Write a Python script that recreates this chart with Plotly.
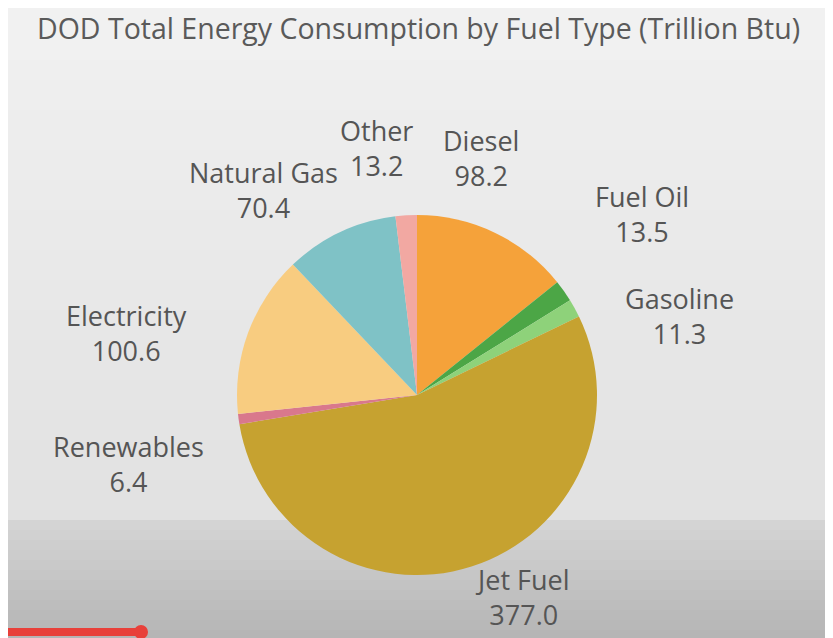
import plotly.graph_objects as go

fuel_types = ["Diesel", "Fuel Oil", "Gasoline", "Jet Fuel", "Renewables",
              "Electricity", "Natural Gas", "Other"]
consumption = [98.2, 13.5, 11.3, 377.0, 6.4, 100.6, 70.4, 13.2]
slice_colors = ["#F5A23A", "#4CA646", "#8ED27A", "#C6A230", "#D9788C",
                "#F8CC80", "#7FC2C6", "#F2A8A2"]

# label placement (pixel centres on screen) - styling only
label_px = {
    "Diesel": (481, 158),
    "Fuel Oil": (642, 214),
    "Gasoline": (679, 316),
    "Jet Fuel": (522, 597),
    "Renewables": (128, 464),
    "Electricity": (126, 333),
    "Natural Gas": (263, 190),
    "Other": (376, 148),
}

OFF = 8  # page body margin
W, H = 833 - OFF, 638 - OFF
cx, cy, r = 417 - OFF, 395 - OFF, 180


def px_x(x):
    return (x - OFF) / W


def px_y(y):
    return 1 - (y - OFF) / H


fig = go.Figure(go.Pie(
    labels=fuel_types,
    values=consumption,
    sort=False,
    direction="clockwise",
    rotation=0,
    marker=dict(colors=slice_colors, line=dict(width=0)),
    textinfo="none",
    hoverinfo="label+value",
    showlegend=False,
    domain=dict(x=[(cx - r) / W, (cx + r) / W], y=[1 - (cy + r) / H, 1 - (cy - r) / H]),
))

annotations = []
for name, val in zip(fuel_types, consumption):
    px, py = label_px[name]
    annotations.append(dict(
        x=px_x(px), y=px_y(py), xref="paper", yref="paper",
        text=f"{name}<br>{val:.1f}", showarrow=False,
        font=dict(family="Open Sans", size=27, color="#555555"),
        align="center", xanchor="center", yanchor="middle",
    ))

annotations.append(dict(
    x=px_x(418), y=px_y(28), xref="paper", yref="paper",
    text="DOD Total Energy Consumption by Fuel Type (Trillion Btu)",
    showarrow=False, xanchor="center", yanchor="middle",
    font=dict(family="Open Sans", size=28.5, color="#5A5A5A"),
))


def grey(v):
    v = int(round(v))
    return f"rgb({v},{v},{v})"


shapes = []
# soft background gradient (screenshot look): upper part and darker bottom band
step = 10
for y0 in range(60, 520, step):
    t = (y0 - 60) / (520 - 60)
    shapes.append(dict(type="rect", xref="paper", yref="paper", x0=0, x1=1,
                       y0=px_y(min(y0 + step, 520)), y1=px_y(y0),
                       fillcolor=grey(239 - 14 * t), line=dict(width=0), layer="below"))
for y0 in range(520, 640, step):
    t = (y0 - 520) / (640 - 520)
    shapes.append(dict(type="rect", xref="paper", yref="paper", x0=0, x1=1,
                       y0=px_y(y0 + step), y1=px_y(y0),
                       fillcolor=grey(212 - 34 * t), line=dict(width=0), layer="below"))
shapes += [
    dict(type="rect", xref="paper", yref="paper", x0=0, x1=px_x(140),
         y0=px_y(636), y1=px_y(628), fillcolor="#E8403A", line=dict(width=0)),
    dict(type="circle", xref="paper", yref="paper", x0=px_x(134), x1=px_x(148),
         y0=px_y(639), y1=px_y(625), fillcolor="#E8403A", line=dict(width=0)),
]

fig.update_layout(
    width=W, height=H,
    margin=dict(l=0, r=0, t=0, b=0),
    paper_bgcolor="#F1F1F1",
    plot_bgcolor="#F1F1F1",
    annotations=annotations,
    shapes=shapes,
)

fig.write_html("out.html")
